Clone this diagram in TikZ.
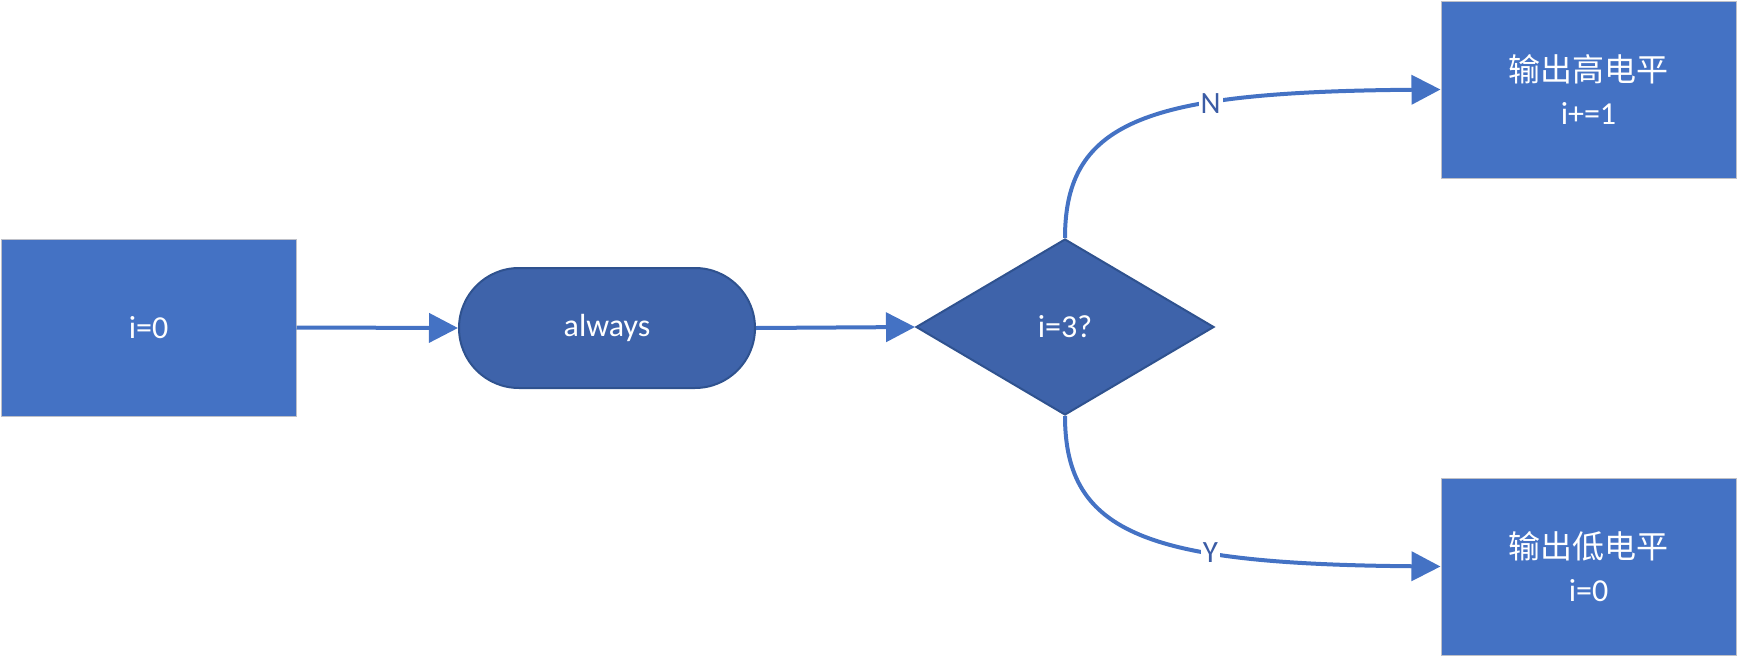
\documentclass[tikz,border=0pt]{standalone}
\usepackage{fontspec}
\setmainfont{Carlito}
\newfontfamily\cjk{Noto Sans CJK SC}
\usetikzlibrary{shapes.geometric,shapes.misc,arrows.meta}
\definecolor{boxblue}{RGB}{68,114,196}
\definecolor{darkfill}{RGB}{62,99,170}
\definecolor{darkline}{RGB}{47,82,143}
\definecolor{boxedge}{RGB}{190,192,200}
\definecolor{lblblue}{RGB}{59,92,165}
\begin{document}
\begin{tikzpicture}[x=1pt,y=-1pt,
  procbox/.style={rectangle,fill=boxblue,draw=boxedge,line width=1pt,
    minimum width=295pt,minimum height=177pt,inner sep=0pt,
    text=white,align=center,font=\fontsize{32}{43}\selectfont},
  termbox/.style={rounded rectangle,fill=darkfill,draw=darkline,line width=2pt,
    minimum width=296pt,minimum height=120pt,inner sep=0pt,
    text=white,font=\fontsize{32}{43}\selectfont},
  decbox/.style={diamond,fill=darkfill,draw=darkline,line width=2pt,
    minimum width=298pt,minimum height=176pt,inner sep=0pt,
    text=white,font=\fontsize{32}{43}\selectfont},
  conn/.style={draw=boxblue,line width=4pt,
    -{Triangle[length=29pt,width=29pt]}},
  lbl/.style={fill=white,inner sep=2pt,text=lblblue,
    font=\fontsize{31}{36}\selectfont}]
\useasboundingbox (0,0) rectangle (1738,656);
\node[procbox] (a) at (148.5,327.5) {i=0};
\node[termbox] (b) at (607,328) {always};
\node[decbox] (d) at (1065,327) {i=3?};
\node[procbox] (h) at (1588.5,89.5) {{\cjk 输出高电平}\\i+=1};
\node[procbox] (l) at (1588.5,566.5) {{\cjk 输出低电平}\\i=0};
\draw[conn] (a.east) -- (b.west);
\draw[conn] (b.east) -- (d.west);
\draw[conn] (d.north) .. controls +(0,-119) and +(-291,2.5) .. node[lbl,pos=0.66] (nl) {N} (h.west);
\draw[conn] (d.south) .. controls +(0,119) and +(-291,-2.5) .. node[lbl,pos=0.66] (yl) {Y} (l.west);
\end{tikzpicture}
\end{document}
